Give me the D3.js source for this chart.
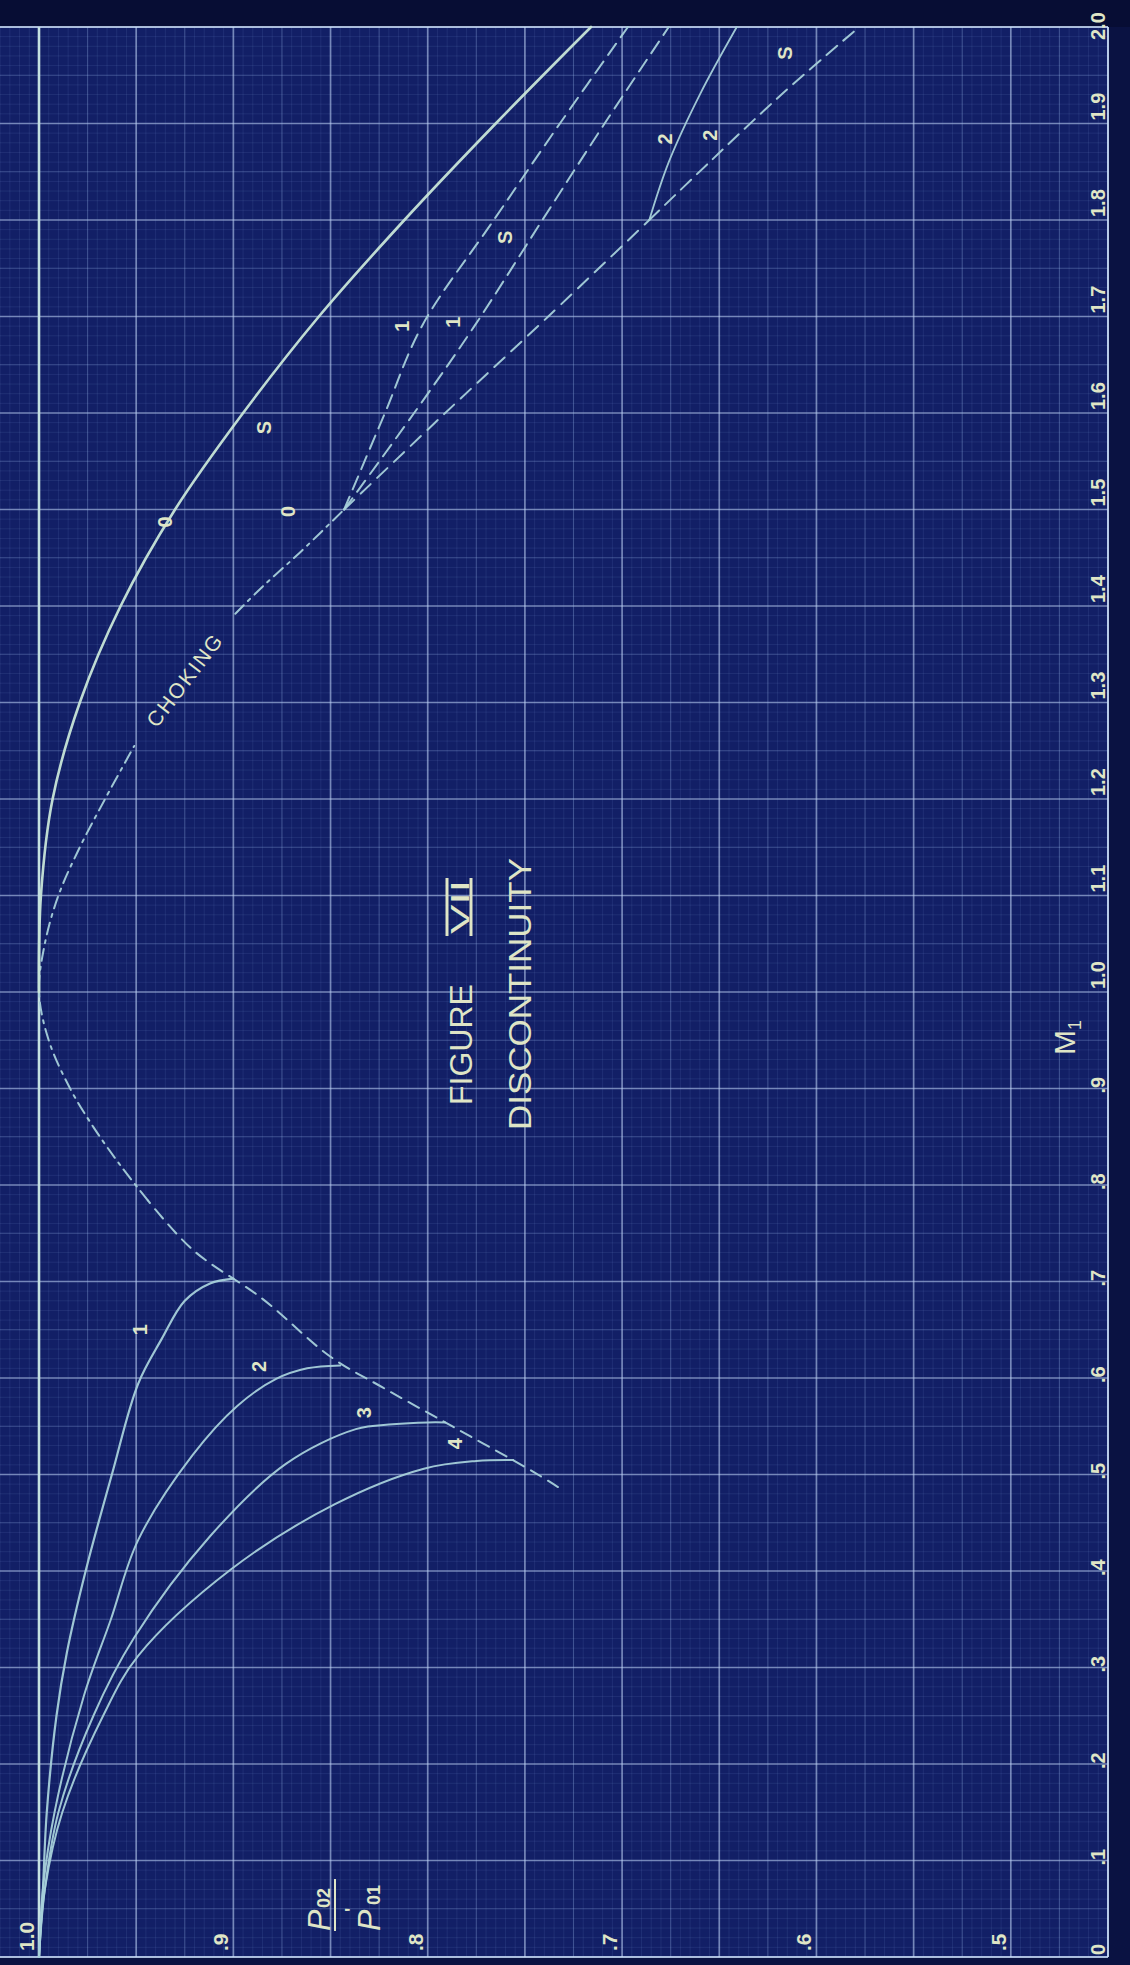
<!DOCTYPE html>
<html>
<head>
<meta charset="utf-8">
<script src="https://cdn.jsdelivr.net/npm/d3@7"></script>
<style>
  html, body { margin: 0; padding: 0; background: #0a1242; }
  svg { display: block; }
  text { font-family: "Liberation Sans", Arial, sans-serif; }
</style>
</head>
<body>
<svg id="chart" width="1130" height="1965"></svg>
<script>
// ---- axis ticks -------------------------------------------------------
const M_TICKS  = [0, 0.1, 0.2, 0.3, 0.4, 0.5, 0.6, 0.7, 0.8, 0.9, 1.0, 1.1, 1.2, 1.3, 1.4, 1.5, 1.6, 1.7, 1.8, 1.9, 2.0];
const M_LABELS = ["0", ".1", ".2", ".3", ".4", ".5", ".6", ".7", ".8", ".9", "1.0", "1.1", "1.2", "1.3", "1.4", "1.5", "1.6", "1.7", "1.8", "1.9", "2.0"];
const P_TICKS  = [1.0, 0.9, 0.8, 0.7, 0.6, 0.5];
const P_LABELS = ["1.0", ".9", ".8", ".7", ".6", ".5"];

// ---- subsonic curves (M1, P02/P01') ------------------------------------
const sub1M = [0, 0.07, 0.15, 0.25, 0.316, 0.40, 0.50, 0.594, 0.64, 0.68, 0.698, 0.703];
const sub1P = [1, 0.998, 0.996, 0.991, 0.9856, 0.976, 0.9625, 0.949, 0.937, 0.925, 0.912, 0.900];
const sub2M = [0, 0.07, 0.15, 0.27, 0.35, 0.432, 0.52, 0.571, 0.599, 0.610, 0.613];
const sub2P = [1, 0.998, 0.992, 0.977, 0.963, 0.949, 0.921, 0.898, 0.878, 0.862, 0.845];
const sub3M = [0, 0.07, 0.15, 0.25, 0.331, 0.436, 0.511, 0.547, 0.552, 0.554, 0.554];
const sub3P = [1, 0.997, 0.990, 0.972, 0.951, 0.912, 0.873, 0.837, 0.818, 0.800, 0.791];
const sub4M = [0, 0.07, 0.15, 0.25, 0.312, 0.402, 0.469, 0.506, 0.514, 0.515];
const sub4P = [1, 0.997, 0.988, 0.967, 0.949, 0.901, 0.848, 0.802, 0.775, 0.756];

// ---- choking locus ------------------------------------------------------
const chokeSubM = [0.487, 0.502, 0.554, 0.590, 0.622, 0.682, 0.733, 0.784];
const chokeSubP = [0.733, 0.745, 0.791, 0.823, 0.850, 0.885, 0.921, 0.944];
const chokeArcLoM = [0.784, 0.82, 0.86, 0.90, 0.95, 1.00, 1.05, 1.10, 1.15, 1.20, 1.255];
const chokeArcLoP = [0.944, 0.958, 0.972, 0.984, 0.995, 1.000, 0.997, 0.990, 0.979, 0.966, 0.951];
const chokeArcHiM = [1.392, 1.42, 1.455, 1.50];
const chokeArcHiP = [0.899, 0.885, 0.866, 0.843];
const chokeSupM = [1.50, 1.60, 1.70, 1.80];
const chokeSupP = [0.843, 0.791, 0.738, 0.686];

// ---- supersonic curves ----------------------------------------------------
const sup0M = [1.0, 1.1, 1.2, 1.3, 1.4, 1.5, 1.6, 1.7, 1.8, 1.9, 2.0];
const sup0P = [1.0, 0.999, 0.993, 0.979, 0.958, 0.930, 0.895, 0.856, 0.812, 0.765, 0.716];
const sup1aM = [1.50, 1.60, 1.69, 1.80, 1.90, 2.0];
const sup1aP = [0.843, 0.822, 0.803, 0.766, 0.732, 0.697];
const sup1bM = [1.50, 1.60, 1.69, 1.80, 1.90, 2.0];
const sup1bP = [0.843, 0.807, 0.776, 0.741, 0.709, 0.676];
const sup2aM = [1.80, 1.86, 1.93, 2.0];
const sup2aP = [0.686, 0.676, 0.660, 0.641];
const sup2sM = [1.80, 1.86, 1.93, 2.0];
const sup2sP = [0.686, 0.655, 0.618, 0.578];

// ---- curve labels ----------------------------------------------------------
const curveLabels = [
  { t: "1", m: 0.650, p: 0.948 },
  { t: "2", m: 0.612, p: 0.887 },
  { t: "3", m: 0.564, p: 0.833 },
  { t: "4", m: 0.532, p: 0.786 },
  { t: "0", m: 1.487, p: 0.935 },
  { t: "S", m: 1.585, p: 0.884 },
  { t: "0", m: 1.498, p: 0.872 },
  { t: "1", m: 1.690, p: 0.813 },
  { t: "1", m: 1.694, p: 0.787 },
  { t: "S", m: 1.782, p: 0.760 },
  { t: "2", m: 1.884, p: 0.678 },
  { t: "2", m: 1.888, p: 0.655 },
  { t: "S", m: 1.973, p: 0.616 }
];

// ---------------------------------------------------------------------------
// The sheet is drawn landscape (M1 across, P02/P01' up) and turned a quarter
// turn so that M1 runs up the page.
const PAGE_W = 1130, PAGE_H = 1965;
const W = PAGE_H, H = PAGE_W;           // landscape frame

const x = d3.scaleLinear().domain([0, 2.0]).range([8, 1938]);
const y = d3.scaleLinear().domain([1.0, 0.45]).range([39, 1108]);

const svg = d3.select("#chart");
const g = svg.append("g").attr("transform", `translate(0,${PAGE_H}) rotate(-90)`);

const INK = "#dfe5c6";
const LINE = "#a6d0da";

// paper
g.append("rect").attr("x", 0).attr("y", 0).attr("width", W).attr("height", H).attr("fill", "#0a1242");
g.append("rect").attr("x", x(0)).attr("y", 0).attr("width", x(2.0) - x(0)).attr("height", y(0.45))
  .attr("fill", "#121f66");
g.append("rect").attr("x", x(2.0)).attr("y", 0).attr("width", W - x(2.0)).attr("height", H).attr("fill", "#070d34");

// graph-paper ruling
const grid = g.append("g");
const ruleStroke = (major, mid) => major ? "rgba(190,210,245,0.58)" : mid ? "rgba(160,190,240,0.32)" : "rgba(140,170,230,0.15)";
const ruleWidth = (major, mid) => major ? 1.7 : mid ? 1.1 : 0.8;
d3.range(0, 201).forEach(i => {
  const m = i / 100, major = i % 10 === 0, mid = i % 5 === 0;
  grid.append("line")
    .attr("x1", x(m)).attr("x2", x(m)).attr("y1", 0).attr("y2", y(0.45))
    .attr("stroke", ruleStroke(major, mid)).attr("stroke-width", ruleWidth(major, mid));
});
d3.range(0, 115).forEach(i => {
  const p = 0.45 + i * 0.005, major = i % 10 === 0, mid = i % 5 === 0;
  grid.append("line")
    .attr("x1", x(0)).attr("x2", x(2.0)).attr("y1", y(p)).attr("y2", y(p))
    .attr("stroke", ruleStroke(major, mid)).attr("stroke-width", ruleWidth(major, mid));
});

// frame
g.append("line").attr("x1", x(0)).attr("x2", x(2.0)).attr("y1", y(0.45)).attr("y2", y(0.45))
  .attr("stroke", "rgba(205,225,250,0.8)").attr("stroke-width", 2);
g.append("line").attr("x1", x(2.0)).attr("x2", x(2.0)).attr("y1", 0).attr("y2", y(0.45))
  .attr("stroke", "rgba(205,225,250,0.7)").attr("stroke-width", 2);
g.append("line").attr("x1", x(0)).attr("x2", x(0)).attr("y1", 0).attr("y2", y(0.45))
  .attr("stroke", "rgba(205,225,250,0.7)").attr("stroke-width", 2);

// unity line
g.append("line").attr("x1", x(0)).attr("x2", x(2.0)).attr("y1", y(1.0)).attr("y2", y(1.0))
  .attr("stroke", "#c6e2e2").attr("stroke-width", 2.6);

// curves
const zip = (ms, ps) => ms.map((m, i) => [m, ps[i]]);
const line = d3.line().x(d => x(d[0])).y(d => y(d[1])).curve(d3.curveCatmullRom.alpha(0.5));
const curves = g.append("g").attr("fill", "none").attr("stroke-linecap", "round");
function draw(ms, ps, opts) {
  curves.append("path").datum(zip(ms, ps)).attr("d", line)
    .attr("stroke", opts.color || LINE)
    .attr("stroke-width", opts.w || 2)
    .attr("stroke-dasharray", opts.dash || null)
    .attr("opacity", opts.o || 0.95);
}
draw(sub1M, sub1P, { w: 2.2 });
draw(sub2M, sub2P, { w: 2 });
draw(sub3M, sub3P, { w: 2 });
draw(sub4M, sub4P, { w: 2 });
draw(chokeSubM, chokeSubP, { dash: "12,8" });
draw(chokeArcLoM, chokeArcLoP, { dash: "12,6,3,6" });
draw(chokeArcHiM, chokeArcHiP, { dash: "12,6,3,6" });
draw(chokeSupM, chokeSupP, { dash: "14,9" });
draw(sup0M, sup0P, { w: 2.6, color: "#c8e6d8" });
draw(sup1aM, sup1aP, { dash: "14,8" });
draw(sup1bM, sup1bP, { dash: "14,8" });
draw(sup2aM, sup2aP, { w: 1.8 });
draw(sup2sM, sup2sP, { dash: "14,8" });

// curve labels
g.append("g").selectAll("text").data(curveLabels).join("text")
  .attr("x", d => x(d.m)).attr("y", d => y(d.p))
  .attr("text-anchor", "middle").attr("dominant-baseline", "central")
  .attr("font-size", 20).attr("font-weight", "bold").attr("fill", INK)
  .text(d => d.t);

// CHOKING, lettered into the gap of its locus
{
  const a = [x(1.255), y(0.951)], b = [x(1.392), y(0.899)];
  const ang = Math.atan2(b[1] - a[1], b[0] - a[0]) * 180 / Math.PI;
  g.append("text")
    .attr("transform", `translate(${(a[0] + b[0]) / 2},${(a[1] + b[1]) / 2}) rotate(${ang})`)
    .attr("text-anchor", "middle").attr("dominant-baseline", "central")
    .attr("font-size", 21).attr("fill", INK).attr("letter-spacing", 2)
    .text("CHOKING");
}

// M1 tick labels along the base
const mLabelX = d => d === 0 ? x(d) + 2 : d >= 2 ? x(d) - 13 : d < 1 ? x(d) - 5 : x(d) + 3;
g.append("g").selectAll("text").data(M_TICKS).join("text")
  .attr("x", mLabelX)
  .attr("y", y(0.45) - 3)
  .attr("font-size", 20).attr("font-weight", "bold").attr("fill", INK)
  .text((d, i) => M_LABELS[i]);

// P02/P01' tick labels along the left edge
g.append("g").selectAll("text").data(P_TICKS).join("text")
  .attr("x", 14).attr("y", d => y(d) - 5)
  .attr("font-size", 21).attr("font-weight", "bold").attr("fill", INK)
  .text((d, i) => P_LABELS[i]);

// axis titles
const ylab = g.append("g").attr("fill", INK);
ylab.append("text").attr("x", 34).attr("y", 330).attr("font-size", 32).attr("font-style", "italic").text("P");
ylab.append("text").attr("x", 57).attr("y", 330).attr("font-size", 18).attr("font-weight", "bold").text("02");
ylab.append("line").attr("x1", 34).attr("x2", 86).attr("y1", 335).attr("y2", 335)
  .attr("stroke", INK).attr("stroke-width", 2);
ylab.append("text").attr("x", 34).attr("y", 380).attr("font-size", 32).attr("font-style", "italic").text("P");
ylab.append("text").attr("x", 53).attr("y", 358).attr("font-size", 18).attr("font-weight", "bold").text("'");
ylab.append("text").attr("x", 60).attr("y", 380).attr("font-size", 18).attr("font-weight", "bold").text("01");

const xlab = g.append("text").attr("x", 910).attr("y", 1075).attr("font-size", 30).attr("fill", INK);
xlab.append("tspan").text("M");
xlab.append("tspan").attr("font-size", 18).attr("dy", 6).text("1");

// title block
const title = g.append("g").attr("fill", INK);
title.append("text").attr("x", 860).attr("y", 472).attr("font-size", 32).text("FIGURE");
const vii = title.append("text").attr("x", 1031).attr("y", 469).attr("font-size", 26)
  .attr("font-family", "Liberation Serif, serif").attr("textLength", 54).attr("lengthAdjust", "spacingAndGlyphs").text("VII");
const vb = vii.node().getBBox();
title.append("line").attr("x1", vb.x - 2).attr("x2", vb.x + vb.width + 2).attr("y1", 447).attr("y2", 447)
  .attr("stroke", INK).attr("stroke-width", 3);
title.append("line").attr("x1", vb.x - 2).attr("x2", vb.x + vb.width + 2).attr("y1", 471).attr("y2", 471)
  .attr("stroke", INK).attr("stroke-width", 3);
title.append("text").attr("x", 835).attr("y", 531).attr("font-size", 32)
  .attr("textLength", 272).attr("lengthAdjust", "spacingAndGlyphs").text("DISCONTINUITY");
</script>
</body>
</html>
